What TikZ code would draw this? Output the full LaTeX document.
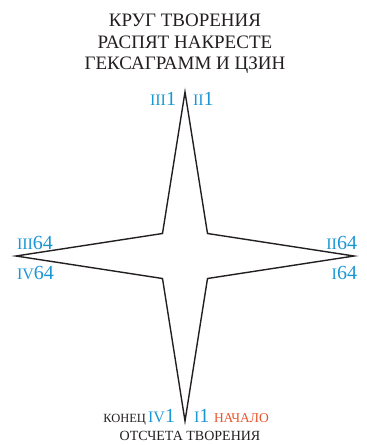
\documentclass[tikz,border=0pt]{standalone}
\usepackage{fontspec}
\setmainfont{Liberation Serif}
\usetikzlibrary{positioning}

\definecolor{hexblue}{RGB}{27,150,212}
\definecolor{startred}{RGB}{232,85,42}
\definecolor{inkgray}{RGB}{35,31,32}

% roman numeral (small) followed by a large number
\newcommand{\romnum}[2]{{\fontsize{16}{16}\selectfont #1}{\fontsize{20}{20}\selectfont #2}}

\begin{document}
\begin{tikzpicture}[
  x=1pt, y=-1pt,
  every node/.style={inner sep=0pt, outer sep=0pt, text=inkgray},
  titleline/.style={anchor=base, font=\fontsize{19}{19}\selectfont},
  hexlabel/.style={text=hexblue},
  bottomword/.style={font=\fontsize{13.5}{13.5}\selectfont},
  starline/.style={draw=inkgray, line width=1.4pt, line join=miter}
]
\useasboundingbox (0,0) rectangle (367,445);

% Title
\node[titleline] (title1) at (185,26) {КРУГ ТВОРЕНИЯ};
\node[titleline] (title2) at (185,48) {РАСПЯТ НАКРЕСТЕ};
\node[titleline] (title3) at (185,69) {ГЕКСАГРАММ И ЦЗИН};

% Star
\coordinate (top) at (185,92);
\coordinate (right) at (354,256);
\coordinate (bottom) at (185,421);
\coordinate (left) at (16,256);
\coordinate (ne) at (207.5,233.5);
\coordinate (se) at (207.5,278.5);
\coordinate (sw) at (162.5,278.5);
\coordinate (nw) at (162.5,233.5);
\draw[starline] (top) -- (ne) -- (right) -- (se) -- (bottom) -- (sw) -- (left) -- (nw) -- cycle;

% Labels at the tips
\node[hexlabel, anchor=base east] (topleft) at (176,105) {\romnum{III}{1}};
\node[hexlabel, anchor=base west] (topright) at (193,105) {\romnum{II}{1}};
\node[hexlabel, anchor=base west] (leftup) at (17,249) {\romnum{III}{64}};
\node[hexlabel, anchor=base west] (leftdown) at (17,279) {\romnum{IV}{64}};
\node[hexlabel, anchor=base east] (rightup) at (357,249) {\romnum{II}{64}};
\node[hexlabel, anchor=base east] (rightdown) at (357,279) {\romnum{I}{64}};
\node[hexlabel, anchor=base east] (botleft) at (175,422) {\romnum{IV}{1}};
\node[hexlabel, anchor=base west] (botright) at (194,422) {\romnum{I}{1}};

% Bottom words
\node[bottomword, anchor=base east, font=\fontsize{12.5}{12.5}\selectfont] (endword) at (146,422) {КОНЕЦ};
\node[bottomword, anchor=base west, text=startred] (startword) at (214,422) {НАЧАЛО};
\node[bottomword, anchor=base, font=\fontsize{14}{14}\selectfont] (countword) at (190,440) {ОТСЧЕТА ТВОРЕНИЯ};

\end{tikzpicture}
\end{document}
